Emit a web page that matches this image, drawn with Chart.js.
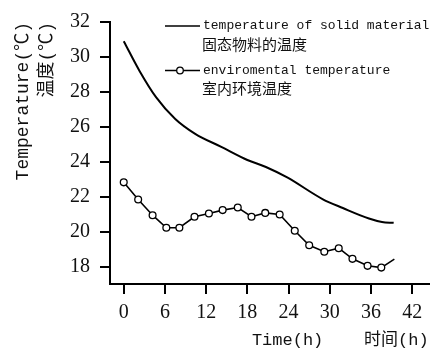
<!DOCTYPE html>
<html>
<head>
<meta charset="utf-8">
<script src="https://cdn.jsdelivr.net/npm/chart.js@4.4.1/dist/chart.umd.min.js"></script>
<style>
  html, body { margin: 0; padding: 0; background: #fff; }
  #wrap { width: 434px; height: 351px; }
</style>
</head>
<body>
<div id="wrap"><canvas id="chart" width="434" height="351"></canvas></div>
<script>
// solid material temperature
const solidHours = [0, 2.3, 4.7, 7.5, 10.4, 14.2, 18.0, 20.7, 23.8, 29.0, 31.9, 35.7, 37.6, 39.3];
const solidTemps = [30.9, 29.2, 27.7, 26.45, 25.6, 24.85, 24.1, 23.7, 23.1, 21.85, 21.35, 20.75, 20.55, 20.5];

// environmental temperature (circle markers, last point is line end only)
const envHours = [0, 2.1, 4.2, 6.2, 8.1, 10.3, 12.4, 14.4, 16.6, 18.6, 20.6, 22.7, 24.9, 27.0, 29.2, 31.3, 33.3, 35.5, 37.5, 39.4];
const envTemps = [22.82, 21.84, 20.94, 20.22, 20.22, 20.85, 21.04, 21.23, 21.38, 20.85, 21.07, 20.98, 20.05, 19.22, 18.85, 19.05, 18.44, 18.04, 17.94, 18.42];

const xTicks = [0, 6, 12, 18, 24, 30, 36, 42];
const yTicks = [18, 20, 22, 24, 26, 28, 30, 32];

const legendItems = [
  { en: "temperature of solid material", zh: "固态物料的温度", marker: false },
  { en: "enviromental temperature", zh: "室内环境温度", marker: true }
];

const monoCjk = "'Liberation Mono', 'Noto Sans CJK SC', monospace";
const cjk = "'Noto Sans CJK SC', sans-serif";

// legend drawn by hand, two lines per entry
const legendPlugin = {
  id: "twoLineLegend",
  afterDraw(chart) {
    const ctx = chart.ctx;
    const rows = [26, 70.5];
    ctx.save();
    legendItems.forEach((item, i) => {
      const y = rows[i];
      ctx.strokeStyle = "#000";
      ctx.lineWidth = 1.6;
      ctx.beginPath();
      ctx.moveTo(165, y);
      ctx.lineTo(200, y);
      ctx.stroke();
      if (item.marker) {
        ctx.beginPath();
        ctx.arc(180, y, 3.3, 0, Math.PI * 2);
        ctx.fillStyle = "#fff";
        ctx.fill();
        ctx.lineWidth = 1.3;
        ctx.stroke();
      }
      ctx.fillStyle = "#111";
      ctx.textBaseline = "middle";
      ctx.textAlign = "left";
      ctx.font = "13px " + monoCjk;
      ctx.fillText(item.en, 203, y);
      ctx.font = "15px " + cjk;
      ctx.fillText(item.zh, 202, y + 18);
    });
    ctx.restore();
  }
};

new Chart(document.getElementById("chart"), {
  type: "line",
  data: {
    datasets: [
      {
        label: "temperature of solid material",
        data: solidHours.map((h, i) => ({ x: h, y: solidTemps[i] })),
        borderColor: "#000",
        borderWidth: 2,
        pointRadius: 0,
        cubicInterpolationMode: "monotone",
        fill: false
      },
      {
        label: "enviromental temperature",
        data: envHours.map((h, i) => ({ x: h, y: envTemps[i] })),
        borderColor: "#000",
        borderWidth: 1.6,
        pointRadius: envHours.map((h, i) => (i === envHours.length - 1 ? 0 : 3.4)),
        pointBackgroundColor: "#fff",
        pointBorderColor: "#000",
        pointBorderWidth: 1.3,
        tension: 0,
        fill: false
      }
    ]
  },
  options: {
    responsive: false,
    animation: false,
    events: [],
    layout: { padding: { top: 20, right: 0, left: 0, bottom: 0 } },
    plugins: {
      legend: { display: false },
      tooltip: { enabled: false }
    },
    scales: {
      x: {
        type: "linear",
        min: -2,
        max: 44.4,
        afterFit(scale) { scale.height = 67; },
        afterBuildTicks(scale) { scale.ticks = xTicks.map(v => ({ value: v })); },
        border: { display: true, color: "#000", width: 2 },
        grid: { drawOnChartArea: false, drawTicks: true, tickLength: 10, color: "#000", lineWidth: 2 },
        ticks: {
          color: "#111",
          padding: 7,
          font: { family: "'Liberation Serif', serif", size: 20 }
        },
        title: {
          display: true,
          text: "Time(h)    时间(h)",
          align: "end",
          color: "#111",
          padding: { top: 4, bottom: 0 },
          font: { family: monoCjk, size: 17 }
        }
      },
      y: {
        type: "linear",
        min: 17,
        max: 32,
        afterFit(scale) { scale.width = 110; },
        afterBuildTicks(scale) { scale.ticks = yTicks.map(v => ({ value: v })); },
        border: { display: true, color: "#000", width: 2 },
        grid: { drawOnChartArea: false, drawTicks: true, tickLength: 10, color: "#000", lineWidth: 2 },
        ticks: {
          color: "#111",
          padding: 10,
          font: { family: "'Liberation Serif', serif", size: 20 }
        },
        title: {
          display: true,
          text: ["Temperature(℃)", "温度(℃)"],
          align: "end",
          color: "#111",
          padding: { top: 11, bottom: 0 },
          font: { family: monoCjk, size: 18, lineHeight: 1.35 }
        }
      }
    }
  },
  plugins: [legendPlugin]
});
</script>
</body>
</html>
